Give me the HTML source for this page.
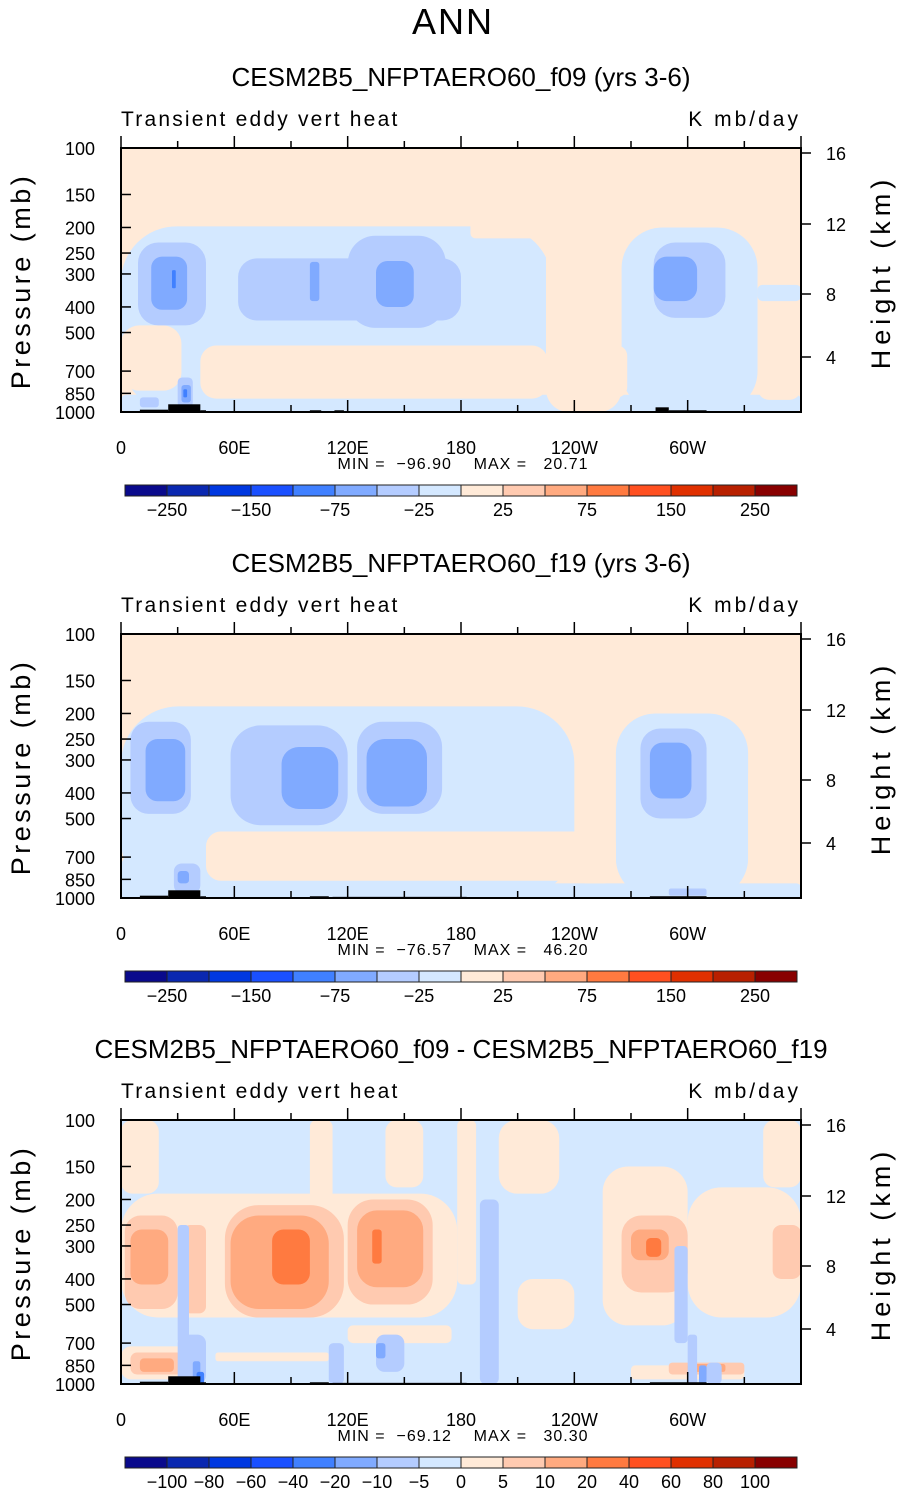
<!DOCTYPE html>
<html><head><meta charset="utf-8">
<style>
html,body{margin:0;padding:0;background:#fff;}
body{width:905px;height:1493px;overflow:hidden;font-family:"Liberation Sans",sans-serif;}
svg text{font-family:"Liberation Sans",sans-serif;fill:#000;white-space:pre;}
</style></head>
<body>
<svg id="chart" width="905" height="1493" viewBox="0 0 905 1493" xmlns="http://www.w3.org/2000/svg">
<text x="453" y="34" font-size="36" text-anchor="middle" letter-spacing="2">ANN</text>
</svg>
<script>
// ---- data ----
const palette = ["#0a0a8c","#0a28b0","#0038e0","#1a50ff","#4080ff","#80aaff","#b4ccff","#d4e8ff","#ffead8","#ffcab0","#ffaa80","#ff7a40","#ff5020","#e03000","#b82000","#880000"];
const cbarLabels1 = ["","−250","","−150","","−75","","−25","","25","","75","","150","","250",""];
const cbarLabels3 = ["","−100","−80","−60","−40","−20","−10","−5","0","5","10","20","40","60","80","100",""];
const pressureTicks = [100,150,200,250,300,400,500,700,850,1000];
const heightTicks = [16,12,8,4];
const heightTickY = [5,76,146,209];
const lonTicks = [0,60,120,180,240,300];
const lonLabels = ["0","60E","120E","180","120W","60W"];
const panelTitles = ["CESM2B5_NFPTAERO60_f09 (yrs 3-6)","CESM2B5_NFPTAERO60_f19 (yrs 3-6)","CESM2B5_NFPTAERO60_f09 - CESM2B5_NFPTAERO60_f19"];
const minVals = ["−96.90","−76.57","−69.12"];
const maxVals = ["20.71","46.20","30.30"];
const bgIndex = [8,8,7];
// blobs: [lon0, lon1, pTop, pBottom, colorIndex]
const blobs1 = [
 [0,228,198,1000,7],[265,337,200,1000,7],[0,360,860,1000,7],[337,360,330,380,7],[185,228,190,220,8],
 [0,32,470,830,8],[42,226,560,890,8],[250,268,560,880,8],[337,360,640,900,8],[225,265,180,1000,8],
 [9,45,228,470,6],[62,180,262,450,6],[120,172,215,480,6],[282,320,228,440,6],[30,38,740,960,6],[10,20,880,960,6],
 [16,35,258,410,5],[100,105,270,380,5],[135,155,268,400,5],[282,305,258,380,5],[32,37,790,920,5],
 [27,29,290,340,4],[33,35,820,880,4]
];
const blobs2 = [
 [0,240,188,1000,7],[262,332,200,1000,7],[0,360,880,1000,7],[0,50,680,1000,7],
 [45,262,560,860,8],[332,360,300,870,8],[240,262,560,880,8],
 [5,37,215,480,6],[58,120,222,530,6],[125,170,215,480,6],[275,310,228,500,6],[28,42,740,960,6],[290,310,920,980,6],
 [13,34,250,430,5],[85,115,268,460,5],[130,162,250,450,5],[280,302,258,420,5],[30,36,790,880,5]
];
const blobs3 = [
 [0,178,190,560,8],[0,20,100,190,8],[100,112,100,200,8],[140,160,100,180,8],[178,188,100,420,8],[255,300,150,600,8],[300,360,180,560,8],[340,360,100,180,8],[200,232,100,190,8],[210,240,400,620,8],[0,40,720,960,8],[50,110,760,820,8],[270,330,850,960,8],[120,175,600,700,8],
 [2,30,230,520,9],[33,45,250,540,9],[55,118,210,560,9],[120,165,200,500,9],[265,300,230,450,9],[5,35,760,920,9],[290,330,830,920,9],[345,360,250,400,9],
 [5,25,260,420,10],[58,110,230,520,10],[125,160,220,430,10],[270,290,260,340,10],[10,28,800,900,10],[300,320,840,900,10],
 [80,100,260,420,11],[133,138,260,350,11],[278,286,280,330,11],
 [30,36,250,700,6],[190,200,200,1000,6],[293,300,300,700,6],[110,118,700,1000,6],[135,150,650,900,6],[30,45,650,1000,6],[300,305,650,1000,6],[310,318,830,1000,6],
 [38,42,820,1000,5],[135,140,700,800,5],[306,310,850,1000,5],[40,44,900,1000,4]
];
const topo = [[10,25,980],[25,42,935],[42,45,985],[100,106,985],[113,118,985],[283,290,960],[290,310,985]];
const topo2 = [[10,25,980],[25,42,935],[42,45,985],[100,110,985],[112,183,990],[280,310,985]];
const panels = [{y:148,blobs:blobs1,topo:topo,lab:cbarLabels1},{y:634,blobs:blobs2,topo:topo2,lab:cbarLabels1},{y:1120,blobs:blobs3,topo:topo2,lab:cbarLabels3}];

// ---- drawing ----
const NS="http://www.w3.org/2000/svg";
const svg=document.getElementById('chart');
const X0=121,W=680,H=264;
function xs(lon){return X0+lon/360*W;}
function ys(p,top){return top+H*Math.log10(p/100);}
function mk(tag,attrs,parent){const e=document.createElementNS(NS,tag);for(const k in attrs)e.setAttribute(k,attrs[k]);(parent||svg).appendChild(e);return e;}

panels.forEach((pn,i)=>{
 const top=pn.y;
 const g=mk('g',{});
 
 
 const t=mk('text',{x:461,y:top-62,'font-size':26,'text-anchor':'middle'},g);t.textContent=panelTitles[i];
 
 
 const l=mk('text',{x:121,y:top-22,'font-size':21,'letter-spacing':'2.2'},g);l.textContent='Transient eddy vert heat';
 
 
 const u=mk('text',{x:801,y:top-22,'font-size':21,'text-anchor':'end','letter-spacing':'3'},g);u.textContent='K mb/day';
 
 
 const clip=mk('clipPath',{id:'c'+i},g);mk('rect',{x:X0,y:top,width:W,height:H},clip);
 const pg=mk('g',{'clip-path':'url(#c'+i+')'},g);
 const bg=mk('rect',{x:X0,y:top,width:W,height:H,fill:palette[bgIndex[i]]},pg);
 
 
 pn.blobs.forEach(b=>{
  const x0=xs(b[0]),x1=xs(b[1]),y0=ys(b[2],top),y1=ys(b[3],top);
  const w=x1-x0,h=y1-y0,r=Math.min(w,h)*0.3;
  const e=mk('rect',{x:x0,y:y0,width:w,height:h,rx:r,ry:r,fill:palette[b[4]]},pg);
  
  
 });
 pn.topo.forEach(b=>{
  const y0=ys(b[2],top);
  const e=mk('rect',{x:xs(b[0]),y:y0,width:xs(b[1])-xs(b[0]),height:top+H-y0,fill:'#000'},pg);
  
  
 });
 const fr=mk('rect',{x:X0,y:top,width:W,height:H,fill:'none',stroke:'#000','stroke-width':2},g);
 
 
 pressureTicks.forEach(p=>{
  const y=ys(p,top);
  mk('line',{x1:X0,x2:X0+10,y1:y,y2:y,stroke:'#000','stroke-width':1.5},g);
  const tx=mk('text',{x:95,y:y+7,'font-size':18,'text-anchor':'end'},g);tx.textContent=p;
  
  
 });
 heightTicks.forEach((h,k)=>{
  const y=top+heightTickY[k];
  mk('line',{x1:X0+W,x2:X0+W+10,y1:y,y2:y,stroke:'#000','stroke-width':1.5},g);
  const tx=mk('text',{x:826,y:y+7,'font-size':18},g);tx.textContent=h;
  
  
 });
 for(let lon=0;lon<=360;lon+=30){
  const x=xs(lon),len=lon%60===0?12:7;
  mk('line',{x1:x,x2:x,y1:top+H,y2:top+H-len,stroke:'#000','stroke-width':1.5},g);
  mk('line',{x1:x,x2:x,y1:top,y2:top-len,stroke:'#000','stroke-width':1.5},g);
 }
 lonTicks.forEach((lon,k)=>{
  const tx=mk('text',{x:xs(lon),y:top+H+42,'font-size':18,'text-anchor':'middle'},g);tx.textContent=lonLabels[k];
  
  
 });
 const py=top+H/2+1;
 const yl=mk('text',{x:30,y:py,'font-size':27,'text-anchor':'middle',transform:'rotate(-90 30 '+py+')','letter-spacing':'3.5'},g);yl.textContent='Pressure (mb)';
 
 
 const py2=top+H/2-8;
 const yr=mk('text',{x:890,y:py2,'font-size':27,'text-anchor':'middle',transform:'rotate(-90 890 '+py2+')','letter-spacing':'5'},g);yr.textContent='Height (km)';
 
 
 const mm=mk('text',{x:463,y:top+H+57,'font-size':16,'text-anchor':'middle','letter-spacing':'1'},g);mm.textContent='MIN =  '+minVals[i]+'    MAX =   '+maxVals[i];
 
 
 const cy=top+H+73;
 palette.forEach((c,k)=>{
  const r=mk('rect',{x:125+k*42,y:cy,width:42,height:11,fill:c,stroke:'#222','stroke-width':1},g);
  
  
 });
 pn.lab.forEach((s,k)=>{
  if(!s)return;
  const tx=mk('text',{x:125+k*42,y:cy+31,'font-size':18,'text-anchor':'middle'},g);tx.textContent=s;
  
  
 });
});
</script>
</body></html>
